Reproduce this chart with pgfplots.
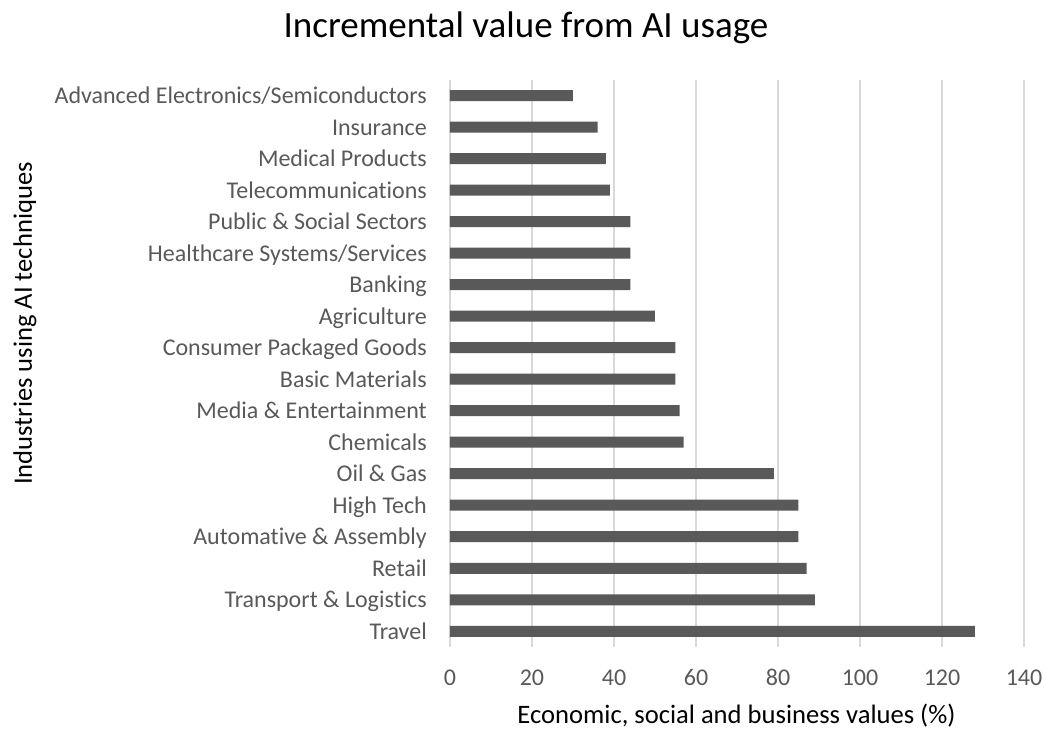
\documentclass[border=0pt]{standalone}
\usepackage{pgfplots}
\pgfplotsset{compat=1.18}
\usepackage{fontspec}
\setmainfont[RawFeature={-liga;-clig}]{Carlito}
\definecolor{barcol}{HTML}{595959}
\definecolor{gridcol}{HTML}{D9D9D9}
\definecolor{labcol}{HTML}{595959}
\begin{document}
\begin{tikzpicture}
\path[use as bounding box] (-450pt,-84pt) rectangle (594pt,647pt);
\begin{axis}[
  at={(0pt,0pt)}, anchor=south west,
  scale only axis,
  width=574pt, height=567pt,
  xmin=0, xmax=140,
  ymin=0.5, ymax=18.5,
  xtick={0,20,...,140},
  ytick={1,...,18},
  yticklabels={Travel, Transport \& Logistics, Retail, Automative \& Assembly, High Tech, Oil \& Gas, Chemicals, Media \& Entertainment, Basic Materials, Consumer Packaged Goods, Agriculture, Banking, Healthcare Systems/Services, Public \& Social Sectors, Telecommunications, Medical Products, Insurance, Advanced Electronics/Semiconductors},
  axis line style={draw=none},
  major tick length=0pt,
  xmajorgrids,
  major grid style={gridcol, line width=1.5pt},
  /pgf/number format/assume math mode=true,
  xticklabel style={font=\fontsize{24}{28}\selectfont, text=labcol, inner sep=0pt, anchor=base, yshift=-38.7pt},
  yticklabel style={font=\fontsize{24}{28}\selectfont, text=labcol, inner sep=0pt, anchor=base east, xshift=-23pt, yshift=-8pt},
  xbar, bar width=11pt,
  clip=false,
]
\addplot[fill=barcol, draw=none] coordinates {
  (128,1) (89,2) (87,3) (85,4) (85,5) (79,6) (57,7) (56,8) (55,9)
  (55,10) (50,11) (44,12) (44,13) (44,14) (39,15) (38,16) (36,17) (30,18)
};
\end{axis}
% chart title and axis titles
\node[font=\fontsize{37}{44}\selectfont, text=black, inner sep=0pt, anchor=base] at (76pt,609.7pt) {Incremental value from AI usage};
\node[font=\fontsize{26.6}{32}\selectfont, text=black, inner sep=0pt, anchor=base] at (286.5pt,-76.5pt) {Economic, social and business values (\%)};
\node[font=\fontsize{26.6}{32}\selectfont, text=black, inner sep=0pt, rotate=90] at (-425pt,323.5pt) {Industries using AI techniques};
\end{tikzpicture}
\end{document}
